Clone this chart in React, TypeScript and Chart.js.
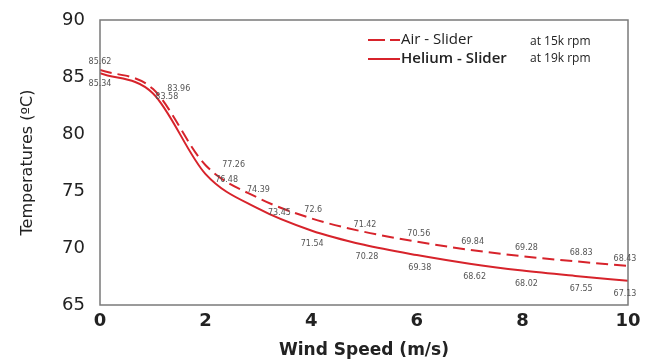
import React, { useEffect, useRef } from "react";
import { Chart, registerables } from "chart.js";

Chart.register(...registerables);

const windSpeeds = [0, 1, 2, 3, 4, 5, 6, 7, 8, 9, 10];
const airSlider = [85.62, 83.96, 77.26, 74.39, 72.6, 71.42, 70.56, 69.84, 69.28, 68.83, 68.43];
const heliumSlider = [85.34, 83.58, 76.48, 73.45, 71.54, 70.28, 69.38, 68.62, 68.02, 67.55, 67.13];
const airLabels = ["85.62", "83.96", "77.26", "74.39", "72.6", "71.42", "70.56", "69.84", "69.28", "68.83", "68.43"];
const heliumLabels = ["85.34", "83.58", "76.48", "73.45", "71.54", "70.28", "69.38", "68.62", "68.02", "67.55", "67.13"];
const xTicks = [0, 2, 4, 6, 8, 10];
const yTicks = [65, 70, 75, 80, 85, 90];
const legendNames = ["Air - Slider", "Helium - Slider"];
const legendNotes = ["at 15k rpm", "at 19k rpm"];

// label placement (style only): [dx, dy] in px relative to point
const airLabelOffsets = [[0, -8], [26, 0], [28, 0], [0, -8], [2, -8], [1, -7], [2, -8], [3, -8], [4, -8], [6, -8], [-3, -7]];
const heliumLabelOffsets = [[0, 11], [14, 4], [21, 6], [21, 4], [1, 13], [3, 12], [3, 13], [5, 13], [4, 13], [6, 13], [-3, 13]];

const RED = "#d7232b";

const overlayPlugin = {
  id: "overlay",
  afterDatasetsDraw(chart: any) {
    const { ctx, chartArea } = chart;
    const xs = chart.scales.x;
    const ys = chart.scales.y;
    ctx.save();
    // frame
    ctx.strokeStyle = "#7a7a7a";
    ctx.lineWidth = 1.5;
    ctx.strokeRect(chartArea.left, chartArea.top, chartArea.right - chartArea.left, chartArea.bottom - chartArea.top);

    // data labels
    ctx.font = "8px 'DejaVu Sans'";
    ctx.fillStyle = "#555";
    ctx.textAlign = "center";
    ctx.textBaseline = "middle";
    windSpeeds.forEach((w, i) => {
      const px = xs.getPixelForValue(w);
      const pa = ys.getPixelForValue(airSlider[i]);
      const ph = ys.getPixelForValue(heliumSlider[i]);
      ctx.fillText(airLabels[i], px + airLabelOffsets[i][0], pa + airLabelOffsets[i][1]);
      ctx.fillText(heliumLabels[i], px + heliumLabelOffsets[i][0], ph + heliumLabelOffsets[i][1]);
    });

    // legend
    const lx = 368;
    const rows = [40, 59];
    ctx.strokeStyle = RED;
    ctx.lineWidth = 2;
    ctx.beginPath();
    ctx.setLineDash([17, 5]);
    ctx.moveTo(lx, rows[0]);
    ctx.lineTo(lx + 32, rows[0]);
    ctx.stroke();
    ctx.setLineDash([]);
    ctx.beginPath();
    ctx.moveTo(lx, rows[1]);
    ctx.lineTo(lx + 32, rows[1]);
    ctx.stroke();
    ctx.fillStyle = "#222";
    ctx.textAlign = "left";
    ctx.font = "15px 'Open Sans'";
    ctx.fillText(legendNames[0], lx + 33, rows[0]);
    ctx.font = "600 15px 'Open Sans'";
    ctx.fillText(legendNames[1], lx + 33, rows[1]);
    ctx.font = "12px 'Open Sans'";
    ctx.fillText(legendNotes[0], 530, rows[0] + 2);
    ctx.fillText(legendNotes[1], 530, rows[1]);
    ctx.restore();
  },
};

export default function App() {
  const canvasRef = useRef<HTMLCanvasElement>(null);

  useEffect(() => {
    const canvas = canvasRef.current;
    if (!canvas) return;
    const chart = new Chart(canvas, {
      type: "line",
      data: {
        datasets: [
          {
            label: legendNames[0],
            data: windSpeeds.map((w, i) => ({ x: w, y: airSlider[i] })),
            borderColor: RED,
            borderWidth: 2,
            borderDash: [12, 6],
            pointRadius: 0,
            fill: false,
            cubicInterpolationMode: "monotone",
          },
          {
            label: legendNames[1],
            data: windSpeeds.map((w, i) => ({ x: w, y: heliumSlider[i] })),
            borderColor: RED,
            borderWidth: 2,
            pointRadius: 0,
            fill: false,
            cubicInterpolationMode: "monotone",
          },
        ],
      },
      options: {
        animation: false,
        responsive: false,
        maintainAspectRatio: false,
        layout: { padding: { top: 20, right: 23, left: 0, bottom: 0 } },
        plugins: {
          legend: { display: false },
          tooltip: { enabled: false },
        },
        scales: {
          x: {
            type: "linear",
            min: 0,
            max: 10,
            afterFit: (s: any) => {
              s.height = 57;
            },
            afterBuildTicks: (s: any) => {
              s.ticks = xTicks.map((v) => ({ value: v }));
            },
            grid: { display: false, drawTicks: false },
            border: { display: false },
            ticks: {
              padding: 6,
              color: "#222",
              font: { family: "'DejaVu Sans'", size: 18, weight: "bold" },
              maxRotation: 0,
            },
            title: {
              display: true,
              text: "Wind Speed (m/s)",
              color: "#222",
              font: { family: "'DejaVu Sans'", size: 17, weight: "bold" },
              padding: { top: 0, bottom: 1 },
            },
          },
          y: {
            type: "linear",
            min: 65,
            max: 90,
            afterFit: (s: any) => {
              s.width = 100;
              s.paddingTop = 0;
              s.paddingBottom = 0;
            },
            afterBuildTicks: (s: any) => {
              s.ticks = yTicks.map((v) => ({ value: v }));
            },
            grid: { display: false, drawTicks: false },
            border: { display: false },
            ticks: {
              padding: 15,
              color: "#222",
              font: { family: "'DejaVu Sans'", size: 18 },
            },
            title: {
              display: true,
              text: "Temperatures (ºC)",
              color: "#222",
              font: { family: "'DejaVu Sans'", size: 16 },
              padding: { top: 18, bottom: 0 },
            },
          },
        },
      },
      plugins: [overlayPlugin],
    } as any);
    return () => chart.destroy();
  }, []);

  return (
    <div style={{ position: "absolute", left: 0, top: 0, width: 651, height: 362, background: "#fff" }}>
      <canvas ref={canvasRef} width={651} height={362} style={{ width: 651, height: 362, display: "block" }} />
    </div>
  );
}
